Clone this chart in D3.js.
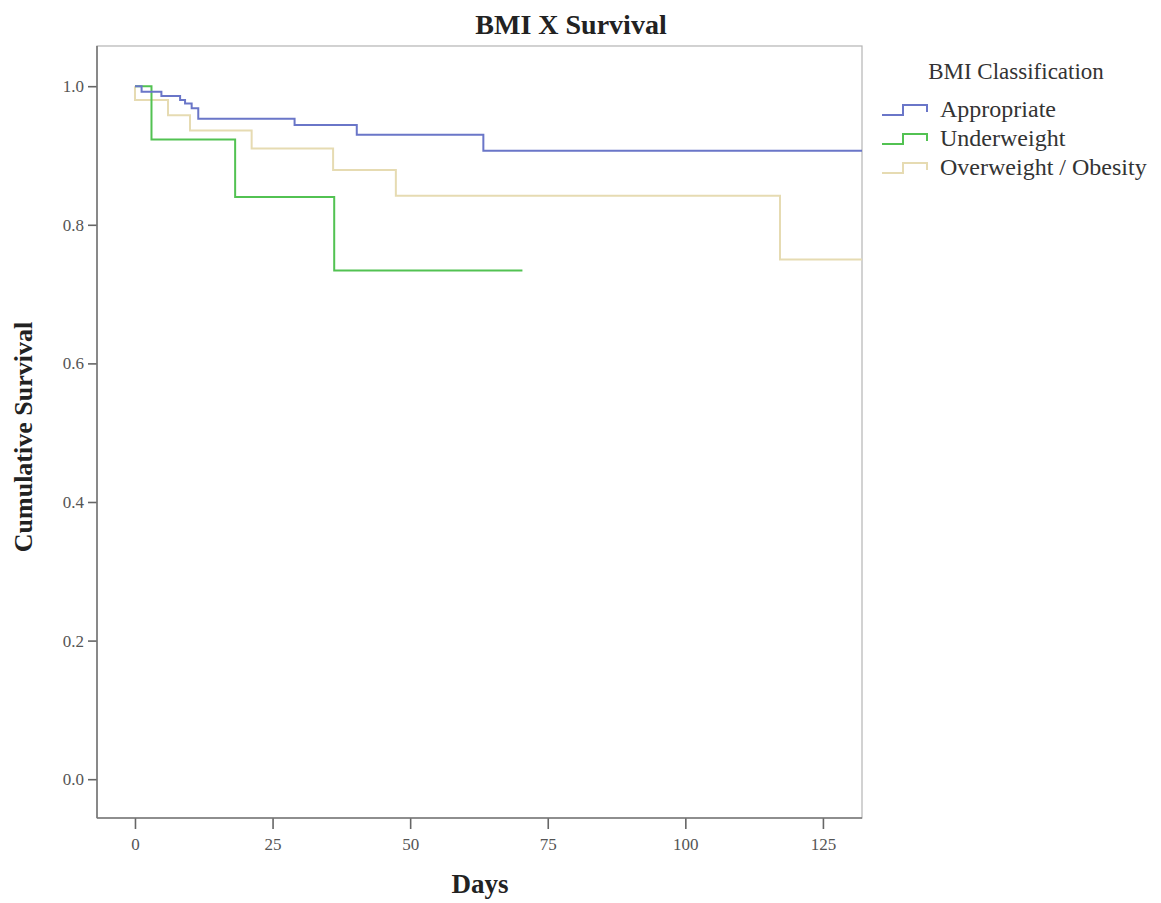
<!DOCTYPE html>
<html>
<head>
<meta charset="utf-8">
<script src="https://cdn.jsdelivr.net/npm/d3@7"></script>
<style>
  body { margin: 0; background: #fff; }
  svg { display: block; }
  text { font-family: "Liberation Serif", "Times New Roman", serif; }
</style>
</head>
<body>
<script>
// Kaplan-Meier steps (days, cumulative survival)
const groups = ["Appropriate", "Underweight", "Overweight / Obesity"];
const appropriateDays = [0, 1.2, 4.8, 8.2, 9.1, 10.3, 11.5, 29, 40.3, 63.3, 132.1];
const appropriateSurv = [1.0, 0.992, 0.986, 0.98, 0.975, 0.968, 0.953, 0.944, 0.930, 0.907, 0.907];
const underweightDays = [0, 3, 18.2, 36.2, 70.4];
const underweightSurv = [1.0, 0.923, 0.84, 0.734, 0.734];
const overweightDays = [0, 0, 6, 10, 21.2, 36, 47.4, 117.2, 132.1];
const overweightSurv = [1.0, 0.98, 0.958, 0.936, 0.910, 0.879, 0.842, 0.750, 0.750];
const xTicks = [0, 25, 50, 75, 100, 125];
const yTicks = [0, 0.2, 0.4, 0.6, 0.8, 1.0];
const colors = ["#6a76c8", "#52c252", "#e6dbb2"];

const width = 1161;
const height = 903;
const plot = {left: 97, top: 46, right: 862, bottom: 818};

const svg = d3.select("body").append("svg")
  .attr("width", width)
  .attr("height", height);

const x = d3.scaleLinear().domain([-6.9, 132.1]).range([plot.left, plot.right]);
const y = d3.scaleLinear().domain([-0.056, 1.058]).range([plot.bottom, plot.top]);

// frame
svg.append("rect")
  .attr("x", plot.left)
  .attr("y", plot.top)
  .attr("width", plot.right - plot.left)
  .attr("height", plot.bottom - plot.top)
  .attr("fill", "none")
  .attr("stroke", "#b4b4b4")
  .attr("stroke-width", 1.2);

const yAxis = svg.append("g")
  .attr("transform", `translate(${plot.left},0)`)
  .call(d3.axisLeft(y).tickValues(yTicks).tickSize(9).tickPadding(4).tickFormat(d3.format(".1f")));

const xAxis = svg.append("g")
  .attr("transform", `translate(0,${plot.bottom})`)
  .call(d3.axisBottom(x).tickValues(xTicks).tickSize(11).tickPadding(9).tickFormat(d3.format("d")));

[xAxis, yAxis].forEach(g => {
  g.select(".domain").remove();
  g.selectAll(".tick line").attr("stroke", "#666").attr("stroke-width", 1.6);
  g.selectAll(".tick text")
    .attr("fill", "#555")
    .style("font-size", "17px")
    .style("font-family", "'Liberation Serif', serif");
});

svg.append("line")
  .attr("x1", plot.left).attr("x2", plot.left)
  .attr("y1", plot.top).attr("y2", plot.bottom)
  .attr("stroke", "#777").attr("stroke-width", 1.6);
svg.append("line")
  .attr("x1", plot.left).attr("x2", plot.right)
  .attr("y1", plot.bottom).attr("y2", plot.bottom)
  .attr("stroke", "#777").attr("stroke-width", 1.6);

// curves
const line = d3.line()
  .x(d => x(d[0]))
  .y(d => y(d[1]))
  .curve(d3.curveStepAfter);

const series = [
  d3.zip(appropriateDays, appropriateSurv),
  d3.zip(underweightDays, underweightSurv),
  d3.zip(overweightDays, overweightSurv)
];

// draw tan first so blue and green sit on top
[2, 1, 0].forEach(i => {
  svg.append("path")
    .datum(series[i])
    .attr("d", line)
    .attr("fill", "none")
    .attr("stroke", colors[i])
    .attr("stroke-width", 2);
});

// titles
svg.append("text")
  .attr("x", 571)
  .attr("y", 34)
  .attr("text-anchor", "middle")
  .attr("font-weight", "bold")
  .attr("font-size", 28)
  .attr("fill", "#222")
  .text("BMI X Survival");

svg.append("text")
  .attr("x", 480)
  .attr("y", 893)
  .attr("text-anchor", "middle")
  .attr("font-weight", "bold")
  .attr("font-size", 27)
  .attr("fill", "#222")
  .text("Days");

svg.append("text")
  .attr("transform", "translate(32,437) rotate(-90)")
  .attr("text-anchor", "middle")
  .attr("font-weight", "bold")
  .attr("font-size", 26)
  .attr("fill", "#222")
  .text("Cumulative Survival");

// legend
const legend = svg.append("g");
legend.append("text")
  .attr("x", 1016)
  .attr("y", 79)
  .attr("text-anchor", "middle")
  .attr("font-size", 23)
  .attr("fill", "#333")
  .text("BMI Classification");

groups.forEach((g, i) => {
  const cy = 110 + i * 29;
  legend.append("path")
    .attr("d", `M882,${cy + 5}H903V${cy - 5}H927V${cy + 2}`)
    .attr("fill", "none")
    .attr("stroke", colors[i])
    .attr("stroke-width", 2);
  legend.append("text")
    .attr("x", 940)
    .attr("y", cy + 7)
    .attr("font-size", 24)
    .attr("fill", "#333")
    .text(g);
});
</script>
</body>
</html>
